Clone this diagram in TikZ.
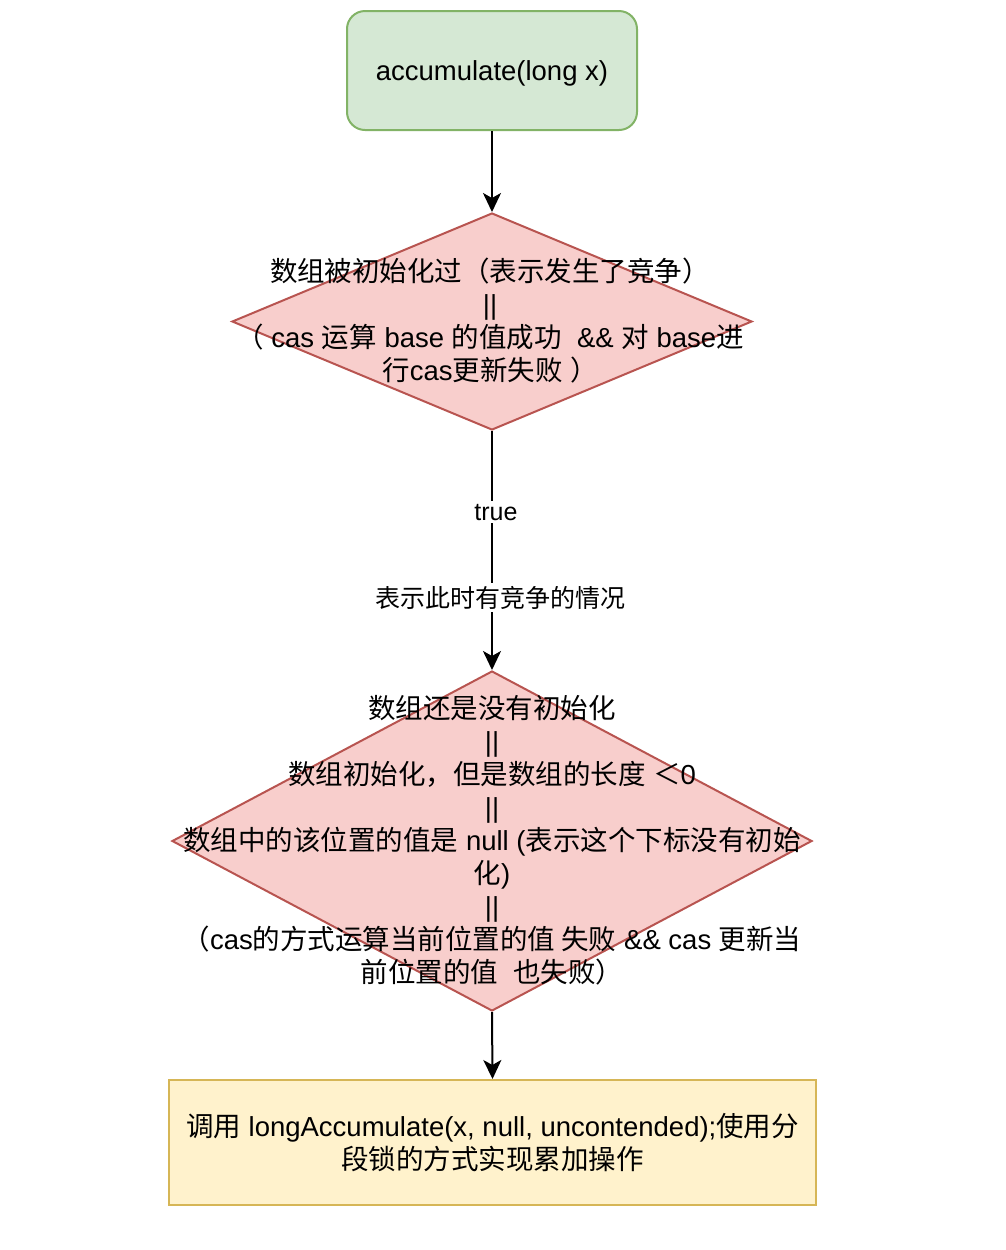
\documentclass[tikz,border=0pt]{standalone}
\usepackage{fontspec}
\setmainfont{Liberation Sans}
\newfontfamily\cjk{Noto Sans CJK SC}
\newcommand\zh[1]{{\cjk #1}}
\usetikzlibrary{shapes.geometric,arrows.meta}

\definecolor{startfill}{HTML}{D5E8D4}
\definecolor{startline}{HTML}{82B366}
\definecolor{condfill}{HTML}{F8CECC}
\definecolor{condline}{HTML}{B85450}
\definecolor{actfill}{HTML}{FFF2CC}
\definecolor{actline}{HTML}{D6B656}

\tikzset{
  bodytext/.style={font=\fontsize{13.75}{16.5}\selectfont, align=center, inner sep=0pt},
  startbox/.style={draw=startline, fill=startfill, line width=1pt, rounded corners=9pt,
    minimum width=145pt, minimum height=59.5pt, bodytext, text depth=0pt},
  condshape/.style={shape=diamond, draw=condline, fill=condfill, line width=1pt, inner sep=0pt},
  actbox/.style={draw=actline, fill=actfill, line width=1pt, minimum width=323.5pt,
    minimum height=62.5pt, bodytext},
  flow/.style={line width=1pt, -{Stealth[length=9.5pt,width=9pt,inset=2.5pt]}},
  edgelabel/.style={fill=white, inner sep=1.5pt, font=\fontsize{12.5}{15}\selectfont}
}

\begin{document}
\begin{tikzpicture}[x=0.5pt, y=-0.5pt]
\useasboundingbox (0,0) rectangle (1006,1250);

% entry point
\node[startbox] (start) at (492,70.5) {accumulate(long x)};

% first condition
\node[condshape, minimum width=260pt, minimum height=108.5pt] (c1) at (492,321.5) {};
\node[bodytext] (c1text) at (490,320.5) {%
  \zh{数组被初始化过（表示发生了竞争）}\\
  ||\\
  \zh{（} cas \zh{运算} base \zh{的值成功}\ \ \&\& \zh{对} base\zh{进}\\
  \zh{行}cas\zh{更新失败} \zh{）}};

% second condition
\node[condshape, minimum width=320pt, minimum height=170pt] (c2) at (492,841) {};
\node[bodytext] (c2text) at (492,840.5) {%
  \zh{数组还是没有初始化}\\
  ||\\
  \zh{数组初始化，但是数组的长度}\ \zh{＜}0\\
  ||\\
  \zh{数组中的该位置的值是} null (\zh{表示这个下标没有初始}\\
  \zh{化})\\
  ||\\
  \zh{（}cas\zh{的方式运算当前位置的值 失败} \&\& cas \zh{更新当}\\
  \zh{前位置的值}\ \ \zh{也失败）}};

% action
\node[actbox] (act) at (492.5,1142.5) {%
  \zh{调用} longAccumulate(x, null, uncontended);\zh{使用分}\\
  \zh{段锁的方式实现累加操作}};

% connectors
\draw[flow] (start.south) -- (c1.north);
\draw[flow] (c1.south) --
  node[edgelabel, pos=0.34, xshift=2pt] (ltrue) {true}
  node[edgelabel, pos=0.697, xshift=4pt] (lcontend) {\zh{表示此时有竞争的情况}}
  (c2.north);
\draw[flow] (c2.south) -- (act.north);
\end{tikzpicture}
\end{document}
